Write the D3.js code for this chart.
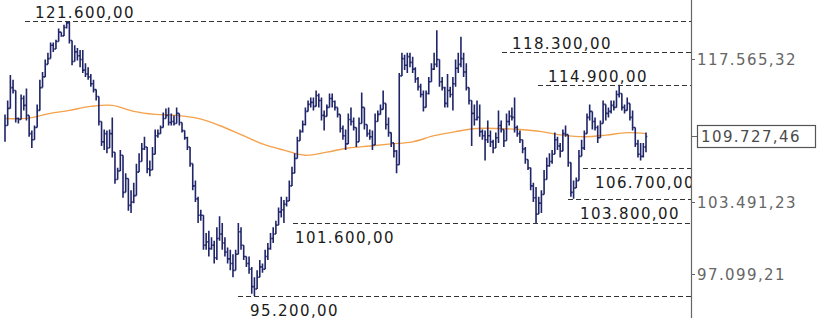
<!DOCTYPE html>
<html>
<head>
<meta charset="utf-8">
<script src="https://cdn.jsdelivr.net/npm/d3@7"></script>
<style>
  html, body { margin: 0; padding: 0; background: #fff; }
  svg { display: block; }
  text { font-family: "DejaVu Sans", Verdana, sans-serif; font-size: 15px; letter-spacing: 1.4px; }
</style>
</head>
<body>
<svg id="chart" width="819" height="318"></svg>
<script>
// prices in thousands (121.6 = 121.600,00)
const high = [
  111.9,113.3,115.9,115.4,114.3,111.6,113.9,113.8,114.5,111.8,
  110.3,110.8,112.9,115.4,116.2,117.5,118.2,119.3,119.3,119.6,
  120.8,120.4,121.2,121.6,121.5,119.5,119.0,118.7,118.5,118.5,
  117.1,116.7,116.0,115.4,114.4,113.7,111.2,110.4,110.3,110.4,
  111.6,108.2,106.7,108.4,107.9,106.2,105.7,104.6,105.3,107.1,
  108.1,109.1,109.7,108.7,107.4,108.7,110.4,110.4,110.8,112.1,
  112.5,112.6,112.0,111.8,112.6,112.0,111.1,110.3,109.7,108.7,
  107.1,105.5,104.0,102.8,102.3,100.7,100.9,100.3,100.0,101.2,
  102.2,101.6,100.3,99.4,99.2,98.8,99.2,101.6,101.2,99.6,
  98.6,98.6,97.7,96.8,97.4,98.3,98.0,99.2,99.8,100.7,
  101.2,101.8,103.0,104.0,103.7,104.0,105.5,106.8,108.1,109.7,
  110.4,111.3,112.6,113.3,113.6,113.6,114.3,114.0,113.6,112.3,
  112.9,114.0,114.0,113.3,112.6,111.9,110.8,110.4,112.0,112.6,
  111.6,110.6,111.6,114.1,112.6,110.9,110.4,110.3,112.0,112.3,
  112.9,114.3,113.0,111.6,110.1,109.1,108.4,116.1,118.2,118.0,
  118.2,118.2,117.8,116.7,115.7,115.0,114.3,114.3,115.7,117.1,
  118.2,120.6,117.5,115.7,114.7,116.0,114.7,115.7,117.5,118.2,
  119.9,118.2,117.1,114.6,113.3,112.9,113.3,112.9,110.4,110.3,
  111.3,110.3,109.4,110.1,112.3,111.3,110.4,112.0,112.3,112.6,
  113.6,110.8,110.3,109.4,108.7,107.5,106.7,105.3,104.9,104.0,
  104.6,106.5,107.7,108.1,108.4,110.1,109.7,109.1,110.4,110.8,
  109.9,107.2,105.5,105.8,108.4,109.4,110.3,112.0,112.9,112.2,
  111.6,110.8,111.3,113.3,112.9,112.6,113.3,113.3,114.3,114.9,
  114.0,112.9,113.6,113.0,112.3,110.6,109.4,109.1,109.1,110.1
];
const low = [
  109.2,110.8,112.5,114.0,111.1,111.0,111.4,112.3,111.3,109.7,
  108.6,109.4,110.6,112.3,114.6,115.7,117.0,117.6,118.3,118.6,
  119.4,119.9,120.0,120.8,119.2,116.9,117.3,117.4,116.7,116.1,
  115.7,115.4,114.7,114.1,113.3,110.8,108.8,108.4,108.1,108.6,
  107.7,105.2,105.6,106.4,103.9,104.4,102.7,102.5,103.4,104.1,
  106.3,107.3,108.4,106.2,105.9,106.5,108.0,109.6,110.0,110.6,
  111.5,110.8,110.8,110.8,111.0,110.8,110.1,109.4,108.4,106.8,
  104.6,103.5,101.6,101.8,99.2,99.2,98.6,99.2,98.0,98.3,
  100.0,99.2,98.6,98.0,97.4,96.8,97.4,98.8,99.2,98.3,
  97.7,97.1,95.4,95.2,95.8,96.8,97.2,97.5,98.3,99.2,
  99.8,100.6,101.4,102.1,101.6,103.1,103.6,105.0,106.2,107.6,
  109.3,110.1,110.8,112.2,112.6,112.3,112.7,112.6,111.3,110.3,
  111.7,112.6,112.6,112.3,111.6,110.1,109.4,108.4,109.0,110.8,
  110.3,108.7,109.2,111.0,110.4,109.7,109.4,108.4,108.9,111.2,
  111.9,112.4,110.4,109.7,108.7,107.7,106.2,107.0,115.8,116.4,
  116.1,116.7,116.1,115.1,114.3,113.6,112.2,112.6,113.9,115.2,
  116.4,116.7,114.7,114.3,112.6,112.6,113.6,112.3,114.7,116.1,
  116.7,115.7,114.3,112.9,108.8,110.8,111.3,109.7,109.4,107.4,
  109.1,108.7,108.1,108.6,109.1,110.1,108.7,109.3,110.8,111.3,
  110.1,109.7,109.1,108.1,107.1,106.5,104.6,103.5,101.6,102.4,
  102.5,104.2,105.6,106.8,107.1,108.0,108.4,107.7,108.3,109.7,
  106.8,104.0,103.8,104.8,105.5,107.8,108.4,110.0,111.3,110.4,
  110.3,109.1,109.6,111.0,111.3,111.6,112.0,112.3,112.6,113.6,
  112.3,112.0,112.3,111.3,110.3,108.7,107.7,107.4,107.7,108.2
];
const close = [
  110.8,112.5,114.6,114.3,111.5,111.4,113.5,112.8,111.8,110.0,
  109.4,110.6,112.3,114.6,115.7,117.0,117.6,119.0,118.6,119.4,
  120.4,120.0,120.9,121.4,119.5,117.3,118.3,117.9,117.5,116.4,
  116.0,115.7,115.0,114.4,113.7,111.2,109.2,110.0,108.6,110.0,
  108.2,105.6,106.4,107.9,104.4,105.7,103.2,103.5,104.1,106.3,
  107.3,108.5,108.7,106.6,106.5,108.0,109.8,110.0,110.6,111.5,
  111.8,111.1,111.2,111.0,112.0,111.1,110.3,109.6,108.7,107.1,
  105.0,103.8,102.3,102.3,99.6,99.9,99.3,99.6,98.5,100.2,
  100.6,99.8,99.0,98.4,98.0,97.4,98.8,100.8,99.6,98.6,
  98.0,97.5,96.0,95.8,96.8,97.7,97.5,98.6,99.3,100.2,
  100.6,101.4,102.6,102.8,103.3,103.6,105.0,106.2,107.6,109.3,
  110.2,110.9,112.2,112.9,113.1,112.7,113.8,113.3,111.8,111.7,
  112.6,113.5,113.2,112.6,111.9,110.5,109.8,109.0,111.4,111.2,
  110.6,109.2,111.0,112.6,110.9,110.0,109.7,108.9,111.2,111.9,
  112.4,113.0,110.9,110.1,109.1,108.3,107.0,115.8,117.6,116.9,
  117.8,117.2,116.5,115.5,114.7,113.9,112.6,114.0,115.2,116.5,
  117.0,117.5,115.2,114.6,113.0,114.3,113.9,115.0,116.6,117.0,
  117.6,116.2,114.6,113.3,112.0,111.4,111.6,110.2,109.8,109.4,
  109.8,109.2,108.6,109.6,110.8,110.4,109.3,111.2,111.7,111.6,
  110.6,110.0,109.4,108.5,107.5,106.7,105.0,103.9,102.4,103.4,
  104.2,105.6,106.9,107.3,108.0,109.4,108.8,108.3,110.0,109.9,
  107.2,104.4,104.8,105.5,107.8,108.6,110.0,111.6,112.2,111.2,
  110.6,109.6,111.0,112.9,112.0,112.2,112.8,112.6,113.9,114.0,
  112.6,112.3,113.0,111.6,110.6,109.0,108.0,107.8,108.7,109.72746
];
// moving average, read every 8th bar
const maIndex = [0,8,16,24,32,40,48,56,64,72,80,88,96,104,112,120,128,136,144,152,160,168,176,184,192,200,208,216,224,232,239];
const maValues = [111.5,111.5,111.95,112.3,112.7,112.8,112.2,111.9,111.8,111.5,110.8,109.9,109.0,108.4,107.9,108.2,108.6,108.8,109.0,109.2,109.8,110.2,110.5,110.5,110.4,110.2,109.85,109.7,109.85,110.1,110.0];

// marked highs / lows
const levelValues = [121.6, 118.3, 114.9, 106.7, 103.8, 101.6, 95.2];
const levelAbove  = [true, true, true, false, false, false, false];
const levelStartX = [25, 502, 538, 583, 568, 293, 238]; // layout only

const tickValues = [97.09921, 103.49123, 117.56532];
const lastValue = close[close.length - 1];

const W = 819, H = 318, axisX = 691;
const svg = d3.select("#chart");

const fmt = d3.formatLocale({ decimal: ",", thousands: ".", grouping: [3], currency: ["", ""] }).format(",.2f");
const label = v => fmt(v * 1000);

const x = d3.scaleLinear().domain([0, close.length - 1]).range([5, 646]);
const y = d3.scaleLog().domain([95.2, 121.6]).range([296, 21]);

svg.append("defs").append("clipPath").attr("id", "plot")
  .append("rect").attr("x", 0).attr("y", 0).attr("width", axisX).attr("height", H);

const plot = svg.append("g").attr("clip-path", "url(#plot)");

// moving average
plot.append("path")
  .datum(maIndex.map((i, k) => [i, maValues[k]]))
  .attr("fill", "none")
  .attr("stroke", "#f4a24c")
  .attr("stroke-width", 1.4)
  .attr("d", d3.line().x(d => x(d[0])).y(d => y(d[1])).curve(d3.curveCatmullRom));

// ohlc bars (open = previous close)
const tick = 1.3;
const bars = plot.append("g").attr("stroke", "#1f2568").attr("stroke-width", 1.6).attr("fill", "none");
bars.selectAll("path")
  .data(close.map((c, i) => ({ i, h: high[i], l: low[i], c, o: i > 0 ? close[i - 1] : null })))
  .join("path")
  .attr("d", d => {
    const cx = x(d.i);
    let p = `M${cx},${y(d.h)}V${y(d.l)}M${cx},${y(d.c)}H${cx + tick}`;
    if (d.o !== null) p += `M${cx - tick},${y(d.o)}H${cx}`;
    return p;
  });

// level lines with labels
levelValues.forEach((v, k) => {
  const ly = Math.round(y(v)) + 0.5;
  plot.append("line")
    .attr("x1", levelStartX[k]).attr("x2", axisX)
    .attr("y1", ly).attr("y2", ly)
    .attr("stroke", "#333").attr("stroke-width", 1.2)
    .attr("stroke-dasharray", "5,3");
  plot.append("text")
    .attr("x", levelStartX[k] + (levelAbove[k] ? 10 : (k === 5 ? 2 : 12)))
    .attr("y", levelAbove[k] ? ly - 4 : ly + 19)
    .attr("fill", "#1a1a1a")
    .text(label(v));
});

// right axis
svg.append("line")
  .attr("x1", axisX + 0.5).attr("x2", axisX + 0.5)
  .attr("y1", 0).attr("y2", H)
  .attr("stroke", "#666").attr("stroke-width", 1.2);

const axis = svg.append("g").attr("transform", `translate(${axisX},0)`);
const t = axis.selectAll("g.tick").data(tickValues).join("g")
  .attr("class", "tick")
  .attr("transform", d => `translate(0,${Math.round(y(d)) + 0.5})`);
t.append("line").attr("x1", 0).attr("x2", 4).attr("stroke", "#666");
t.append("text").attr("x", 6).attr("dy", "0.35em").attr("fill", "#666").text(d => label(d));

// current value box
const ly = Math.round(y(lastValue)) + 0.5;
axis.append("line").attr("x1", 0).attr("x2", 6).attr("y1", ly).attr("y2", ly).attr("stroke", "#666");
axis.append("rect")
  .attr("x", 6.5).attr("y", ly - 11).attr("width", 118).attr("height", 22)
  .attr("fill", "#fff").attr("stroke", "#555").attr("stroke-width", 1.2);
axis.append("text")
  .attr("x", 10).attr("y", ly).attr("dy", "0.36em")
  .attr("fill", "#4a4a4a")
  .text(label(lastValue));
</script>
</body>
</html>
